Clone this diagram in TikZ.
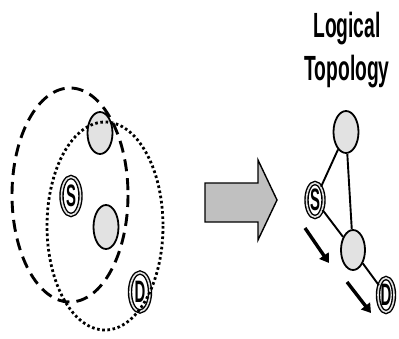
\documentclass[tikz,border=0pt]{standalone}
\usepackage{fontspec}
\setmainfont{Liberation Sans}
\usetikzlibrary{shapes.geometric,arrows.meta}
\definecolor{nodegray}{RGB}{226,226,226}
\definecolor{arrowgray}{RGB}{192,192,192}
\tikzset{
  plainnode/.style={ellipse,draw=black,line width=1.8pt,fill=nodegray,inner sep=0pt},
  endnode/.style={ellipse,draw=black,line width=1.4pt,double=nodegray,double distance=1.6pt,fill=white,inner sep=0pt,font=\bfseries\fontsize{31}{31}\selectfont},
  link/.style={line width=1.9pt,black},
  flow/.style={line width=3.4pt,-{Triangle[length=9pt,width=11pt]}},
  titletext/.style={font=\bfseries\fontsize{35}{35}\selectfont,anchor=base}
}
\newcommand{\narrow}[1]{\scalebox{0.55}[1]{#1}}
\newcommand{\narrowlet}[1]{\scalebox{0.48}[1]{#1}}
\begin{document}
\begin{tikzpicture}[x=1pt,y=-1pt]
\useasboundingbox (0,0) rectangle (399,338);
% physical topology
\node[plainnode,minimum width=25pt,minimum height=42pt] (ptop) at (100,133) {};
\node[plainnode,minimum width=25pt,minimum height=44pt] (pmid) at (106,227) {};
\node[endnode,minimum width=19pt,minimum height=38pt] (ps) at (71,196) {\narrowlet{S}};
\node[endnode,minimum width=20pt,minimum height=39pt] (pd) at (140,292) {\narrowlet{D}};
\draw[line width=2.9pt,dash pattern=on 12pt off 7pt] (70,195) ellipse [x radius=58, y radius=107];
\draw[line width=2.8pt,dash pattern=on 2.6pt off 2.6pt] (105,226) ellipse [x radius=58, y radius=104];
% big arrow
\draw[line width=1.4pt,fill=arrowgray,line join=miter]
  (205,183) -- (258,183) -- (258,160) -- (277,200) -- (258,240) -- (258,222) -- (205,222) -- cycle;
% title
\node[titletext] (t1) at (347,37) {\narrow{Logical}};
\node[titletext] (t2) at (347,80) {\narrow{Topology}};
% logical topology
\node[plainnode,minimum width=25pt,minimum height=42pt] (ltop) at (346,132) {};
\node[plainnode,minimum width=24pt,minimum height=40pt] (lmid) at (353,250) {};
\node[endnode,minimum width=17pt,minimum height=34pt] (ls) at (315,200) {\narrowlet{S}};
\node[endnode,minimum width=16pt,minimum height=34pt] (ld) at (386,295) {\narrowlet{D}};
\draw[link] (ls) -- (ltop);
\draw[link] (ltop) -- (lmid);
\draw[link] (ls) -- (lmid);
\draw[link] (lmid) -- (ld);
\coordinate (a1s) at (305,228);
\coordinate (a1e) at (329,263);
\coordinate (a2s) at (347,282);
\coordinate (a2e) at (371,313);
\draw[flow] (a1s) -- (a1e);
\draw[flow] (a2s) -- (a2e);
\end{tikzpicture}
\end{document}
